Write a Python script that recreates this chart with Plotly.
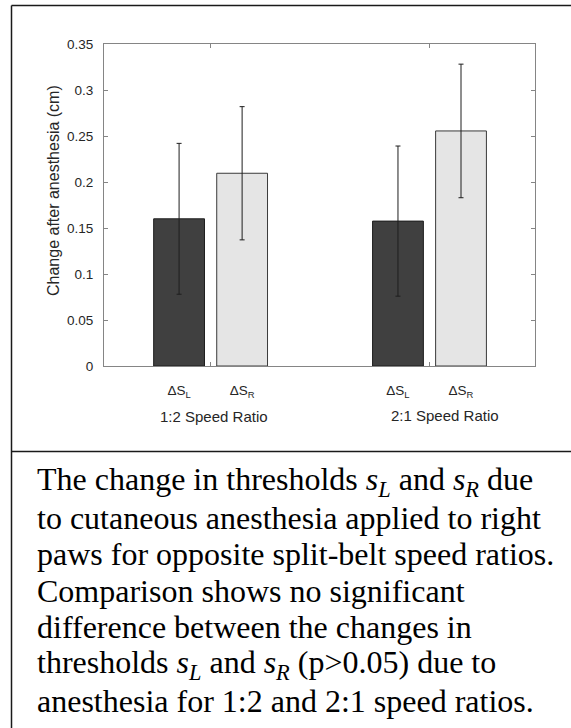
import plotly.graph_objects as go

# ---------------- data ----------------
groups = [1, 2]
group_labels = ["1:2 Speed Ratio", "2:1 Speed Ratio"]
bar_labels = ["ΔS<sub>L</sub>", "ΔS<sub>R</sub>"]
delta_sl = [0.160, 0.1575]
delta_sl_err = [0.082, 0.0816]
delta_sr = [0.2095, 0.2555]
delta_sr_err = [0.0724, 0.0726]
y_ticks = [0, 0.05, 0.1, 0.15, 0.2, 0.25, 0.3, 0.35]
caption_lines = [
    "The change in thresholds <i>s</i><sub><i>L</i></sub> and <i>s</i><sub><i>R</i></sub> due",
    "to cutaneous anesthesia applied to right",
    "paws for opposite split-belt speed ratios.",
    "Comparison shows no significant",
    "difference between the changes in",
    "thresholds <i>s</i><sub><i>L</i></sub> and <i>s</i><sub><i>R</i></sub> (p>0.05) due to",
    "anesthesia for 1:2 and 2:1 speed ratios.",
]

# ---------------- layout geometry (pixels) ----------------
W, H = 571, 728
PL, PR, PT, PB = 104, 535, 44, 366
BARGAP = 0.424
BARGROUPGAP = 0.194
half = (1 - BARGAP) / 4  # center offset of each bar within group


def xp(px):
    return (px - PL) / (PR - PL)


def yp(py):
    return (PB - py) / (PB - PT)


sans = "Liberation Sans, Arial, Helvetica, sans-serif"
serif = "Liberation Serif, Times New Roman, serif"
axis_gray = "#858585"
text_col = "#262626"

fig = go.Figure()
fig.add_trace(go.Bar(
    x=groups, y=delta_sl, name="ΔS_L",
    marker=dict(color="#404040", line=dict(color="#1e1e1e", width=1)),
    error_y=dict(type="data", array=delta_sl_err, color="#1e1e1e", thickness=1, width=2.5),
))
fig.add_trace(go.Bar(
    x=groups, y=delta_sr, name="ΔS_R",
    marker=dict(color="#e5e5e5", line=dict(color="#3a3a3a", width=1)),
    error_y=dict(type="data", array=delta_sr_err, color="#1e1e1e", thickness=1, width=2.5),
))

label_x = []
label_t = []
for g in groups:
    label_x += [g - half, g + half]
    label_t += bar_labels

fig.update_layout(
    width=W, height=H,
    margin=dict(l=PL, r=W - PR, t=PT, b=H - PB, autoexpand=False),
    paper_bgcolor="white", plot_bgcolor="white",
    barmode="group", bargap=BARGAP, bargroupgap=BARGROUPGAP,
    showlegend=False,
    font=dict(family=sans, color=text_col, size=13),
    xaxis=dict(
        range=[0.513, 2.482], tickmode="array", tickvals=label_x, ticktext=label_t,
        ticks="", showline=True, linecolor=axis_gray, linewidth=1, mirror=True,
        showgrid=False, zeroline=False, tickfont=dict(size=13.5, color=text_col),
        ticklabelstandoff=12,
    ),
    xaxis2=dict(
        overlaying="x", anchor="y", side="bottom",
        range=[0.513, 2.482], tickmode="array", tickvals=groups,
        showticklabels=False, ticks="inside", ticklen=4, tickcolor=axis_gray,
        mirror="ticks", showline=False, showgrid=False, zeroline=False,
    ),
    yaxis=dict(
        range=[0, 0.35], tickmode="array", tickvals=y_ticks,
        ticktext=[("%g" % v) for v in y_ticks],
        ticks="inside", ticklen=4, tickcolor=axis_gray,
        showline=True, linecolor=axis_gray, linewidth=1, mirror="ticks",
        showgrid=False, zeroline=False, tickfont=dict(size=13.5, color=text_col),
        ticklabelstandoff=7,
    ),
)
# invisible helper so the overlay tick axis is drawn
fig.add_trace(go.Scatter(x=[1.5], y=[0], xaxis="x2", yaxis="y", mode="markers",
                         marker=dict(opacity=0), hoverinfo="skip", showlegend=False))

annotations = []
# group labels
for g, lab, dx, py in zip(groups, group_labels, [0.014, 0.07], [416.7, 415]):
    annotations.append(dict(
        x=g + dx, xref="x", y=yp(py), yref="paper", text=lab, showarrow=False,
        xanchor="center", yanchor="middle", font=dict(family=sans, size=15, color=text_col),
    ))
# y-axis title
annotations.append(dict(
    x=xp(53), xref="paper", y=yp(191), yref="paper", text="Change after anesthesia (cm)",
    textangle=-90, showarrow=False, xanchor="center", yanchor="middle",
    font=dict(family=sans, size=16, color=text_col),
))
# caption lines
base_y = 492
for i, line in enumerate(caption_lines):
    annotations.append(dict(
        x=xp(35), xref="paper", y=yp(base_y + i * 36.6 - 11), yref="paper", text=line,
        showarrow=False, xanchor="left", yanchor="middle",
        font=dict(family=serif, size=32, color="black"),
    ))
fig.update_layout(annotations=annotations)

# frame lines
frame = dict(color="#1a1a1a", width=1.5)
fig.add_shape(type="line", xref="paper", yref="paper", x0=xp(11.5), x1=xp(W + 2), y0=yp(5.5), y1=yp(5.5), line=frame)
fig.add_shape(type="line", xref="paper", yref="paper", x0=xp(11.5), x1=xp(11.5), y0=yp(5.5), y1=yp(H + 2), line=frame)
fig.add_shape(type="line", xref="paper", yref="paper", x0=xp(11.5), x1=xp(W + 2), y0=yp(451.5), y1=yp(451.5), line=frame)

fig.write_html("out.html")
